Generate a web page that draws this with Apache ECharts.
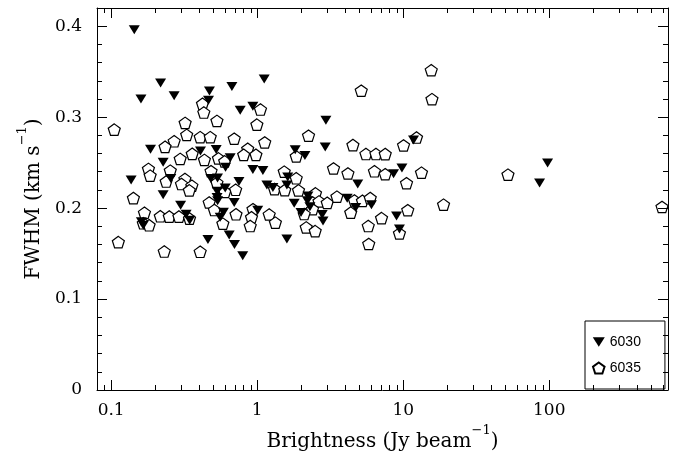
<!DOCTYPE html>
<html><head><meta charset="utf-8">
<script src="https://cdn.jsdelivr.net/npm/echarts@6/dist/echarts.min.js"></script>
<style>html,body{margin:0;padding:0;background:#fff}#c{width:680px;height:452px}</style>
</head><body><div id="c"></div>
<script>
// ---- data ----
const seriesNames = ['6030', '6035'];
const brightness6030 = [0.144,0.160,0.218,0.270,0.471,0.464,0.671,0.765,0.934,1.117,
  0.186,0.227,0.137,0.256,0.227,0.299,0.161,0.166,0.326,0.345,
  0.409,0.524,0.653,0.607,0.934,1.094,0.482,0.535,0.750,0.604,
  0.532,1.165,1.281,1.597,1.618,0.531,0.536,0.696,1.008,0.587,
  0.558,0.643,0.699,0.796,0.460,1.597,2.954,2.923,1.821,2.122,
  4.880,2.225,1.792,2.207,2.296,4.134,4.728,6.056,1.995,2.787,
  2.823,8.584,9.797,11.76,8.998,9.419,97.36,85.8];
const fwhm6030 = [0.396,0.320,0.3375,0.3236,0.3287,0.3187,0.3336,0.3076,0.312,0.342,
  0.2647,0.2505,0.2309,0.2326,0.2148,0.2032,0.1849,0.1811,0.1932,0.1866,
  0.2627,0.2645,0.2553,0.245,0.2423,0.2412,0.2326,0.2331,0.2292,0.222,
  0.2184,0.2254,0.2226,0.2254,0.2342,0.2117,0.208,0.2062,0.1977,0.1955,
  0.1899,0.1703,0.16,0.1476,0.1656,0.1659,0.2966,0.2671,0.2641,0.2578,
  0.2265,0.2132,0.2054,0.208,0.2016,0.2107,0.2007,0.2038,0.1951,0.1929,
  0.1858,0.2378,0.244,0.2749,0.1914,0.177,0.2497,0.2276];
const brightness6035 = [0.105,0.422,0.431,1.053,0.530,0.321,0.995,0.329,0.270,0.407,
  0.477,0.696,1.126,0.234,0.861,0.359,0.297,0.180,0.185,0.254,
  0.238,0.320,0.303,0.357,0.343,0.142,0.169,0.166,0.182,0.217,
  0.250,0.291,0.344,0.112,0.231,0.407,0.808,0.980,0.435,0.543,
  0.599,0.483,1.531,0.530,0.601,0.712,1.314,1.545,0.469,0.509,
  0.936,1.208,0.716,0.914,0.582,0.896,1.332,5.157,2.246,4.523,
  5.552,6.501,7.528,1.850,3.331,4.18,6.349,7.528,1.85,1.918,
  2.507,2.399,2.65,3.016,3.515,4.632,5.255,5.943,4.37,2.392,
  2.098,7.101,2.166,2.495,5.759,5.804,10.05,12.33,13.33,10.53,
  10.74,9.419,18.88,15.73,15.55,52.13,591.5];
const fwhm6035 = [0.2863,0.3147,0.3051,0.3084,0.2959,0.2937,0.2918,0.2805,0.2735,0.278,
  0.278,0.2763,0.2722,0.2674,0.2652,0.2597,0.2541,0.2431,0.2357,0.2412,
  0.2292,0.232,0.2265,0.2246,0.2195,0.211,0.1949,0.1833,0.1811,0.191,
  0.1907,0.1907,0.1885,0.1626,0.1523,0.152,0.2586,0.2586,0.253,0.2547,
  0.2514,0.2406,0.2401,0.2279,0.2179,0.2202,0.2209,0.2198,0.2062,0.1979,
  0.1988,0.193,0.1932,0.1899,0.1829,0.1803,0.184,0.3291,0.2796,0.2693,
  0.2595,0.2595,0.2594,0.2569,0.2436,0.2381,0.2405,0.2373,0.2328,0.2195,
  0.2162,0.2062,0.2074,0.2058,0.2126,0.2084,0.208,0.211,0.1951,0.1988,
  0.1935,0.189,0.1788,0.1747,0.1803,0.1606,0.2689,0.2776,0.239,0.2274,
  0.1977,0.1722,0.2038,0.3198,0.3516,0.2368,0.2013];
const xMinorTicks = [0.09,0.2,0.3,0.4,0.5,0.6,0.7,0.8,0.9,2,3,4,5,6,7,8,9,
  20,30,40,50,60,70,80,90,200,300,400,500,600];
const xRange = [0.08, 650];
const yRange = [0, 0.42];

const pairs = (xs, ys) => xs.map((x, i) => [x, ys[i]]);

const serif = 'DejaVu Serif';
const chart = echarts.init(document.getElementById('c'), null, {renderer: 'canvas'});
const axisCommon = {
  axisLine: {show: true, onZero: false, lineStyle: {color: '#000', width: 1}},
  axisTick: {show: true, inside: true, length: 10, lineStyle: {color: '#000'}},
  splitLine: {show: false},
  z: 10
};
const triPath = 'path://M0,0 L2,0 L1,1.6 Z';
const pentPath = 'path://M0,-1 L0.951,-0.309 L0.588,0.809 L-0.588,0.809 L-0.951,-0.309 Z';
const nameRich = {
  a: {fontFamily: serif, fontSize: 20, color: '#000', lineHeight: 28, verticalAlign: 'bottom'},
  s: {fontFamily: serif, fontSize: 13, color: '#000', lineHeight: 20, verticalAlign: 'top'}
};

chart.setOption({
  animation: false,
  backgroundColor: '#fff',
  grid: {left: 97, right: 12, top: 8, bottom: 62, containLabel: false, outerBoundsMode: 'none'},
  xAxis: [
    Object.assign({}, axisCommon, {
      type: 'log', logBase: 10, min: xRange[0], max: xRange[1], position: 'bottom',
      name: '{a|Brightness (Jy beam}{s|−1}{a|)}', nameLocation: 'middle', nameGap: 28,
      nameTextStyle: {rich: nameRich},
      axisLabel: {show: true, showMinLabel: false, showMaxLabel: false, margin: 12,
        fontFamily: serif, fontSize: 17, color: '#000'}
    }),
    Object.assign({}, axisCommon, {
      type: 'log', logBase: 10, min: xRange[0], max: xRange[1], position: 'top',
      axisLabel: {show: false}
    })
  ],
  yAxis: [
    Object.assign({}, axisCommon, {
      type: 'value', min: yRange[0], max: yRange[1], interval: 0.1, position: 'left',
      minorTick: {show: true, splitNumber: 5, length: 5, lineStyle: {color: '#000'}},
      name: '{a|FWHM (km s}{s|−1}{a|)}', nameLocation: 'middle', nameGap: 53,
      nameTextStyle: {rich: nameRich},
      axisLabel: {show: true, showMaxLabel: false, margin: 15,
        fontFamily: serif, fontSize: 17, color: '#000'}
    }),
    Object.assign({}, axisCommon, {
      type: 'value', min: yRange[0], max: yRange[1], interval: 0.1, position: 'right',
      minorTick: {show: true, splitNumber: 5, length: 5, lineStyle: {color: '#000'}},
      axisLabel: {show: false}
    })
  ],
  legend: {
    data: seriesNames,
    orient: 'vertical',
    left: 585, top: 321,
    padding: [14, 24, 14, 7],
    itemGap: 12,
    itemWidth: 12, itemHeight: 11,
    backgroundColor: '#fff', borderColor: '#000', borderWidth: 1, borderRadius: 0,
    textStyle: {fontFamily: 'Liberation Sans', fontSize: 14, color: '#000'},
    z: 4
  },
  series: [
    {
      name: seriesNames[1], type: 'scatter', data: pairs(brightness6035, fwhm6035),
      symbol: pentPath, symbolSize: [12, 11.5],
      itemStyle: {color: '#fff', borderColor: '#000', borderWidth: 1.2, opacity: 1},
      z: 2
    },
    {
      name: seriesNames[0], type: 'scatter', data: pairs(brightness6030, fwhm6030),
      symbol: triPath, symbolSize: [11, 9],
      itemStyle: {color: '#000', borderWidth: 0, opacity: 1},
      z: 3
    },
    {
      type: 'custom', silent: true, z: 10,
      data: xMinorTicks.map(v => [v, yRange[0]]),
      renderItem(params, api) {
        const cs = params.coordSys;
        const x = Math.round(api.coord([api.value(0), yRange[0]])[0]) + 0.5;
        const yb = cs.y + cs.height, yt = cs.y;
        return {type: 'group', children: [
          {type: 'line', shape: {x1: x, y1: yb, x2: x, y2: yb - 5}, style: {stroke: '#000', lineWidth: 1}},
          {type: 'line', shape: {x1: x, y1: yt, x2: x, y2: yt + 5}, style: {stroke: '#000', lineWidth: 1}}
        ]};
      }
    }
  ]
});
</script></body></html>
